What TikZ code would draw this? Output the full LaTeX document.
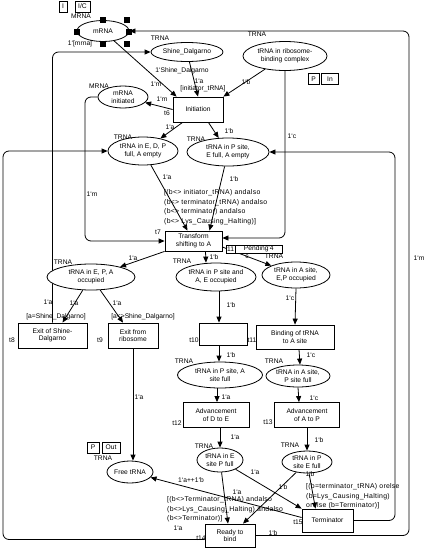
\documentclass[tikz,border=0pt]{standalone}
\usepackage{fontspec}
\setmainfont{Liberation Sans}
\usetikzlibrary{shapes.geometric,arrows.meta,calc}
\pgfdeclarelayer{bg}
\pgfsetlayers{bg,main}
\begin{document}
\begin{tikzpicture}[x=1pt,y=-1pt,
  font=\fontsize{6.7}{7.5}\selectfont,
  place/.style={ellipse, draw, line width=0.8pt, fill=white, inner sep=0pt, align=center},
  trans/.style={rectangle, draw, line width=0.8pt, fill=white, inner sep=0pt, align=center},
  arc/.style={line width=0.8pt, -{Triangle[length=6pt,width=5pt]}, rounded corners=6pt},
  lab/.style={inner sep=0pt},
  guard/.style={inner sep=0pt, align=left, anchor=north west, font=\fontsize{6.9}{9.8}\selectfont\addfontfeature{LetterSpace=4}},
  tagbox/.style={draw, line width=0.6pt, inner sep=0pt, minimum height=11pt},
  handle/.style={fill=black, minimum size=6pt, inner sep=0pt}]
\useasboundingbox (0,0) rectangle (425,549);

% places
\node[place, minimum width=52pt, minimum height=21pt] (mRNA) at (103,31) {mRNA};
\node[place, minimum width=72pt, minimum height=19pt] (SD) at (187,52) {Shine\_Dalgarno};
\node[place, minimum width=84pt, minimum height=29pt] (RBC) at (285,56) {tRNA in ribosome-\\binding complex};
\node[place, minimum width=50pt, minimum height=22pt] (mInit) at (123,97) {mRNA\\initiated};
\node[place, minimum width=70pt, minimum height=28pt] (EDP) at (143,151) {tRNA in E, D, P\\full, A empty};
\node[place, minimum width=82pt, minimum height=28pt] (PEA) at (228,152) {tRNA in P site,\\E full, A empty};
\node[place, minimum width=88pt, minimum height=26pt] (EPA) at (91,277) {tRNA in E, P, A\\occupied};
\node[place, minimum width=80pt, minimum height=28pt] (PAE) at (216,277) {tRNA in P site and\\A, E occupied};
\node[place, minimum width=68pt, minimum height=26pt] (AEP) at (296,275) {tRNA in A site,\\E,P occupied};
\node[place, minimum width=85pt, minimum height=26pt] (PA) at (220,375) {tRNA in P site, A\\site full};
\node[place, minimum width=64pt, minimum height=22pt] (AP) at (298,376) {tRNA in A site,\\P site full};
\node[place, minimum width=46pt, minimum height=22pt] (free) at (130,472) {Free tRNA};
\node[place, minimum width=46pt, minimum height=24pt] (Esite) at (220,460) {tRNA in E\\site P full};
\node[place, minimum width=50pt, minimum height=22pt] (Psite) at (307,462) {tRNA in P\\site E full};

% transitions
\node[trans, minimum width=50pt, minimum height=25pt] (init) at (198,109.5) {Initiation};
\node[trans, minimum width=57pt, minimum height=20pt] (t7) at (193.5,241) {Transform\\shifting to A};
\node[trans, minimum width=69pt, minimum height=25pt] (t8) at (52.5,335.5) {Exit of Shine-\\Dalgarno};
\node[trans, minimum width=50pt, minimum height=25pt] (t9) at (133,335.5) {Exit from\\ribosome};
\node[trans, minimum width=48pt, minimum height=22pt] (t10) at (223,334) {};
\node[trans, minimum width=78pt, minimum height=24pt] (t11) at (295,337) {Binding of tRNA\\to A site};
\node[trans, minimum width=66pt, minimum height=25pt] (t12) at (216,415) {Advancement\\of D to E};
\node[trans, minimum width=65pt, minimum height=25pt] (t13) at (307,415) {Advancement\\of A to P};
\node[trans, minimum width=50pt, minimum height=23pt] (t14) at (230,535.5) {Ready to\\bind};
\node[trans, minimum width=51pt, minimum height=23pt] (t15) at (327.5,520.5) {Terminator};

\coordinate (lft) at (3,0);
\coordinate (lmid) at (85,0);
\coordinate (inner) at (395,0);
\coordinate (outer) at (409,0);

\begin{pgfonlayer}{bg}
\draw[arc] (mRNA) -- ([xshift=4pt]init.north west);
\draw[arc] (SD) -- (init.north);
\draw[arc] (RBC) -- (init.north east);
\draw[arc] (init.west) -- (mInit);
\draw[arc] ([xshift=10pt]init.south west) -- (EDP);
\draw[arc] ([xshift=-15pt]init.south east) -- (PEA);
\draw[arc] (EDP) -- ([xshift=-6pt]t7.north);
\draw[arc] (PEA) -- ([xshift=16pt]t7.north);
\draw[arc] (mInit.west) -| (lmid |- t7.west) -- (t7.west);
\draw[arc] (RBC.south) |- ([yshift=3pt]t7.east);
\draw[arc] (t7.south west) -- (EPA);
\draw[arc] ([xshift=12pt]t7.south) -- ([xshift=-10pt]PAE.north);
\draw[arc] ([yshift=-6pt]t7.east) -- (AEP);
\draw[arc] (t8.north) |- (SD.west);
\draw[arc] (EPA) -- ([xshift=10pt]t8.north);
\draw[arc] (EPA) -- ([xshift=-10pt]t9.north);
\draw[arc] ([xshift=3pt]PAE.south) -- ([xshift=-4pt]t10.north);
\draw[arc] (AEP.south) -- (t11.north);
\draw[arc] ([xshift=-4pt]t10.south) -- ([xshift=-1pt]PA.north);
\draw[arc] ([xshift=4pt]t11.south) -- ([xshift=2pt]AP.north);
\draw[arc] ([xshift=-3pt]PA.south) -- ([xshift=1pt]t12.north);
\draw[arc] (AP.south) -- ([xshift=-8pt]t13.north);
\draw[arc] ([xshift=4pt]t12.south) -- (Esite.north);
\draw[arc] (t13.south) -- (Psite.north);
\draw[arc] (t9.south) -- (t9.south |- free.north);
\draw[arc] (Esite) -- ([xshift=-2pt]t14.north);
\draw[arc] (Esite) -- (t15.north west);
\draw[arc] (Psite) -- ([xshift=13pt]t14.north);
\draw[arc] (Psite) -- ([xshift=-12pt]t15.north);
\draw[arc] ([yshift=3pt]t15.west) -- (free);
\draw[arc] (t15.east) -| (inner |- PEA.east) -- (PEA.east);
\draw[arc] (t14.east) -| (outer |- mRNA.east) -- (mRNA.east);
\draw[arc] ([yshift=-4pt]t14.west) -| (lft |- EDP.west) -- (EDP.west);
\end{pgfonlayer}

% selection handles
\foreach \p/\n in {{(103,20)}/h1,{(127,20)}/h2,{(77,32)}/h3,{(129,31.5)}/h4,{(103,44)}/h5,{(127,44)}/h6}
  \node[handle] (\n) at \p {};

% tags
\node[tagbox, minimum width=8pt] (tI) at (63,6.5) {I};
\node[tagbox, minimum width=15pt] (tIC) at (82.5,6.5) {I/C};
\node[tagbox, minimum width=11pt] (tP1) at (313.5,79) {P};
\node[tagbox, minimum width=17pt] (tIn) at (330,79) {In};
\node[tagbox, minimum width=12pt] (tP2) at (93,447.5) {P};
\node[tagbox, minimum width=18pt] (tOut) at (111,447.5) {Out};
\node[tagbox, minimum width=9pt, minimum height=8pt, fill=white] (t11a) at (230.5,249) {11};
\node[tagbox, minimum width=47pt, minimum height=8pt, fill=white, anchor=west] (pend) at (235,249) {Pending'4};

% type / marking labels
\node[lab] (l1) at (81,16) {MRNA};
\node[lab] (l2) at (80,44) {1`[mrna]};
\node[lab] (l3) at (160,38) {TRNA};
\node[lab] (l4) at (257,34) {TRNA};
\node[lab] (l5) at (182,71) {1`Shine\_Dalgarno};
\node[lab] (l6) at (99,86) {MRNA};
\node[lab] (l7) at (123,137) {TRNA};
\node[lab] (l8) at (196,139) {TRNA};
\node[lab] (l9) at (63,262) {TRNA};
\node[lab] (l10) at (182,261) {TRNA};
\node[lab] (l11) at (274,256) {TRNA};
\node[lab] (l12) at (184,361) {TRNA};
\node[lab] (l13) at (274,361) {TRNA};
\node[lab] (l14) at (103,458) {TRNA};
\node[lab] (l15) at (204,446) {TRNA};
\node[lab] (l16) at (290,445) {TRNA};

% transition names
\node[lab] (n6) at (167,113) {t6};
\node[lab] (n7) at (158,232) {t7};
\node[lab] (n8) at (12,340) {t8};
\node[lab] (n9) at (100,340) {t9};
\node[lab] (n10) at (194,340) {t10};
\node[lab] (n11) at (252,340) {t11};
\node[lab] (n12) at (177,423) {t12};
\node[lab] (n13) at (268,422) {t13};
\node[lab] (n14) at (201,538) {t14};
\node[lab] (n15) at (298,522) {t15};

% guards
\node[lab] (g6) at (203,89) {[initiator\_tRNA]};
\node[guard] (g7) at (164,189) {[(b<> initiator\_tRNA) andalso\\(b<> terminator\_tRNA) andalso\\(b<> terminator) andalso\\(b<> Lys\_Causing\_Halting)]};
\node[lab] (g8) at (56,317) {[a=Shine\_Dalgarno]};
\node[lab] (g9) at (143,317) {[a<>Shine\_Dalgarno]};
\node[guard] (g14) at (167,496) {[(b<>Terminator\_tRNA) andalso\\(b<>Lys\_Causing\_Halting) andalso\\(b<>Terminator)]};
\node[guard] (g15) at (306,483) {[(b=terminator\_tRNA) orelse\\(b=Lys\_Causing\_Halting)\\orelse (b=Terminator)]};

% arc inscriptions
\node[lab] (a1) at (156,84) {1`m};
\node[lab] (a2) at (199,81) {1`a};
\node[lab] (a3) at (246,82) {1`b};
\node[lab] (a4) at (162,99) {1`m};
\node[lab] (a5) at (170,127) {1`a};
\node[lab] (a6) at (229,131) {1`b};
\node[lab] (a7) at (419,258) {1`m};
\node[lab] (a8) at (292,136) {1`c};
\node[lab] (a9) at (92,194) {1`m};
\node[lab] (a10) at (167,177) {1`a};
\node[lab] (a11) at (234,179) {1`b};
\node[lab] (a12) at (133,258) {1`a};
\node[lab] (a13) at (214,257) {1`b};
\node[lab] (a14) at (247,257) {c};
\node[lab] (a15) at (48,302) {1`a};
\node[lab] (a16) at (74,303) {1`a};
\node[lab] (a17) at (117,303) {1`a};
\node[lab] (a18) at (231,305) {1`b};
\node[lab] (a19) at (290,298) {1`c};
\node[lab] (a20) at (231,355) {1`b};
\node[lab] (a21) at (311,355) {1`c};
\node[lab] (a22) at (226,397) {1`a};
\node[lab] (a23) at (314,398) {1`c};
\node[lab] (a24) at (139,397) {1`a};
\node[lab] (a25) at (235,437) {1`a};
\node[lab] (a26) at (319,440) {1`b};
\node[lab] (a27) at (191,480) {1`a++1`b};
\node[lab] (a28) at (255,472) {1`a};
\node[lab] (a29) at (237,492) {1`a};
\node[lab] (a30) at (283,487) {1`b};
\node[lab] (a31) at (310,474) {1`b};
\node[lab] (a32) at (178,528) {1`a};
\node[lab] (a33) at (273,533) {1`b};
\end{tikzpicture}
\end{document}
